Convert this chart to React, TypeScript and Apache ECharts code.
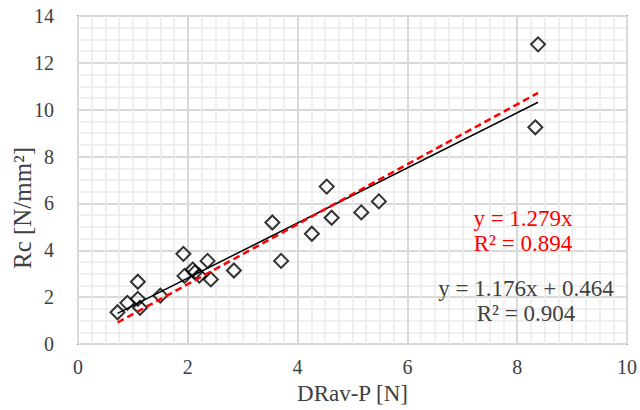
import React, { useEffect, useRef } from "react";
import * as echarts from "echarts";

const xValues = [0.72, 0.9, 1.09, 1.09, 1.13, 1.5, 1.92, 1.94, 2.09, 2.13, 2.21, 2.36, 2.42, 2.84, 3.54, 3.7, 4.26, 4.53, 4.62, 5.16, 5.48, 8.33, 8.38];
const yValues = [1.36, 1.76, 2.66, 1.93, 1.55, 2.07, 3.85, 2.91, 3.18, 3.06, 2.92, 3.55, 2.76, 3.14, 5.19, 3.55, 4.71, 6.72, 5.39, 5.62, 6.09, 9.25, 12.79];

const xAxisTicks = [0, 2, 4, 6, 8, 10];
const yAxisTicks = [0, 2, 4, 6, 8, 10, 12, 14];

const linearFit = { slope: 1.176, intercept: 0.464, r2: 0.904 };
const originFit = { slope: 1.279, intercept: 0, r2: 0.894 };

const xTitle = "DRav-P [N]";
const yTitle = "Rc [N/mm²]";

const FONT = "'Liberation Serif', 'Times New Roman', serif";
const TEXT = "#404040";

export default function App() {
  const ref = useRef<HTMLDivElement>(null);
  useEffect(() => {
    if (!ref.current) return;
    const chart = echarts.init(ref.current, null, { renderer: "svg" });
    const xmin = Math.min(...xValues);
    const xmax = Math.max(...xValues);
    const line = (f: { slope: number; intercept: number }) => [
      [xmin, f.slope * xmin + f.intercept],
      [xmax, f.slope * xmax + f.intercept],
    ];
    const label = (text: string, x: number, y: number, fill: string) => ({
      type: "text",
      x,
      y,
      z: 100,
      style: {
        text,
        fontSize: 23,
        fontFamily: FONT,
        fill,
        textAlign: "center",
        textVerticalAlign: "middle",
      },
    });
    chart.setOption({
      animation: false,
      textStyle: { fontFamily: FONT },
      grid: {
        left: 78,
        right: 11,
        top: 16,
        bottom: 64,
        show: true,
        borderColor: "#404040",
        borderWidth: 1.5,
        backgroundColor: "transparent",
      },
      xAxis: {
        type: "value",
        min: xAxisTicks[0],
        max: xAxisTicks[xAxisTicks.length - 1],
        interval: xAxisTicks[1] - xAxisTicks[0],
        name: xTitle,
        nameLocation: "middle",
        nameGap: 37,
        nameTextStyle: { fontSize: 23, color: TEXT, fontFamily: FONT },
        axisLine: { show: false },
        axisTick: { show: false },
        axisLabel: { fontSize: 20, color: TEXT, margin: 13, fontFamily: FONT },
        splitLine: { show: true, lineStyle: { color: "#d9d9d9", width: 2 } },
        minorTick: { show: false, splitNumber: 8 },
        minorSplitLine: { show: true, lineStyle: { color: "#eaeaea", width: 1.5 } },
      },
      yAxis: {
        type: "value",
        min: yAxisTicks[0],
        max: yAxisTicks[yAxisTicks.length - 1],
        interval: yAxisTicks[1] - yAxisTicks[0],
        axisLine: { show: false },
        axisTick: { show: false },
        axisLabel: { fontSize: 20, color: TEXT, margin: 24, fontFamily: FONT },
        splitLine: { show: true, lineStyle: { color: "#d9d9d9", width: 2 } },
        minorTick: { show: false, splitNumber: 4 },
        minorSplitLine: { show: true, lineStyle: { color: "#eaeaea", width: 1.5 } },
      },
      graphic: [
        {
          type: "text",
          x: 22,
          y: 208,
          z: 100,
          rotation: Math.PI / 2,
          style: {
            text: yTitle,
            fontSize: 25,
            fontFamily: FONT,
            fill: TEXT,
            textAlign: "center",
            textVerticalAlign: "middle",
          },
        },
        label(`y = ${originFit.slope.toFixed(3)}x`, 523, 218, "#ff0000"),
        label(`R² = ${originFit.r2.toFixed(3)}`, 523, 243, "#ff0000"),
        label(`y = ${linearFit.slope.toFixed(3)}x + ${linearFit.intercept.toFixed(3)}`, 526, 288, TEXT),
        label(`R² = ${linearFit.r2.toFixed(3)}`, 526, 313, TEXT),
      ],
      series: [
        {
          type: "scatter",
          data: xValues.map((x, i) => [x, yValues[i]]),
          symbol: "diamond",
          symbolSize: 14,
          itemStyle: { color: "rgba(255,255,255,0)", borderColor: "#000", borderWidth: 2 },
          z: 2,
        },
        {
          type: "line",
          data: line(linearFit),
          showSymbol: false,
          symbol: "none",
          lineStyle: { color: "#000", width: 1.5 },
          z: 3,
        },
        {
          type: "line",
          data: line(originFit),
          showSymbol: false,
          symbol: "none",
          lineStyle: { color: "#ff0000", width: 2.5, type: [7, 4] },
          z: 4,
        },
      ],
    });
    return () => chart.dispose();
  }, []);
  return (
    <div
      ref={ref}
      style={{ position: "absolute", left: 0, top: 0, width: 640, height: 410, background: "#fff" }}
    />
  );
}
